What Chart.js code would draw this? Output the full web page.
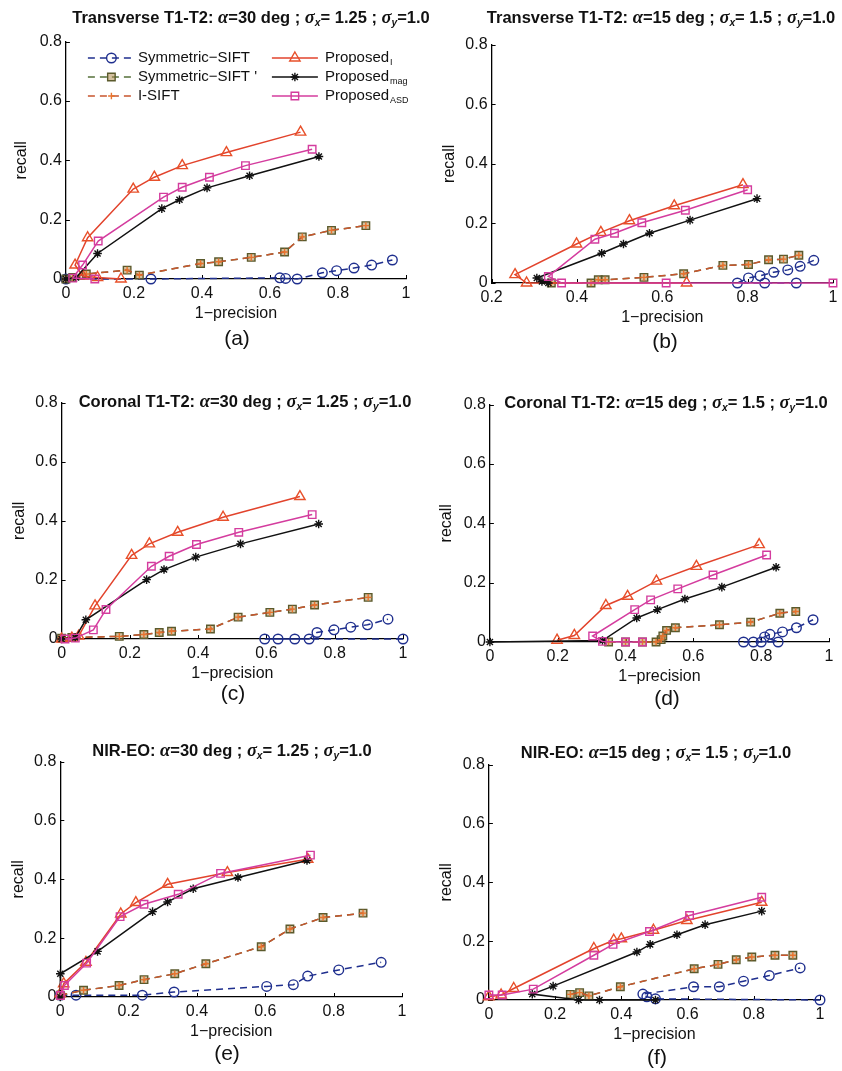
<!DOCTYPE html>
<html>
<head>
<meta charset="utf-8">
<script src="https://cdn.jsdelivr.net/npm/chart.js@4.4.1/dist/chart.umd.min.js"></script>
<style>
  body { margin: 0; background: #fff; }
  #page { position: relative; width: 842px; height: 1071px; overflow: hidden; font-family: "Liberation Sans", Arial, sans-serif; }
  #page canvas { position: absolute; }
  .ttl { position: absolute; transform: translate(-50%, -50%); white-space: nowrap; font-weight: bold; font-size: 16.5px; color: #111; line-height: 20px; }
  .ttl sub { font-size: 0.62em; line-height: 0; vertical-align: -0.3em; font-style: italic; }
  .gk { font-family: "Liberation Serif", serif; font-style: italic; font-size: 1.12em; }
  .tag { position: absolute; transform: translate(-50%, -50%); font-size: 21px; color: #111; }
</style>
</head>
<body>
<div id="page"></div>
<script>
// ---- data: [1-precision, recall] ----
// (a) Transverse T1-T2, alpha=30
const aSym = [[0, 0], [0.25, 0], [0.629, 0.004], [0.646, 0.002], [0.68, 0], [0.754, 0.021], [0.796, 0.028], [0.847, 0.037], [0.899, 0.047], [0.96, 0.064]];
const aSymPrime = [[0, 0], [0.02, 0.005], [0.06, 0.017], [0.18, 0.03], [0.216, 0.013], [0.396, 0.052], [0.449, 0.058], [0.545, 0.073], [0.643, 0.091], [0.695, 0.142], [0.781, 0.164], [0.882, 0.18]];
const aPropI = [[0.162, 0], [0.093, 0.005], [0.05, 0.01], [0.027, 0.047], [0.064, 0.139], [0.198, 0.303], [0.26, 0.343], [0.342, 0.382], [0.472, 0.426], [0.69, 0.495]];
const aPropMag = [[0, 0], [0.03, 0.005], [0.093, 0.086], [0.282, 0.237], [0.334, 0.267], [0.415, 0.307], [0.54, 0.348], [0.744, 0.413]];
const aPropAsd = [[0.085, 0], [0.02, 0.003], [0.049, 0.047], [0.095, 0.128], [0.287, 0.276], [0.342, 0.309], [0.422, 0.343], [0.528, 0.382], [0.724, 0.437]];

// (b) Transverse T1-T2, alpha=15
const bSym = [[0.914, 0], [0.84, 0], [0.776, 0], [0.802, 0.017], [0.829, 0.024], [0.861, 0.036], [0.894, 0.044], [0.923, 0.056], [0.955, 0.076]];
const bSymPrime = [[0.34, 0], [0.433, 0], [0.45, 0.011], [0.466, 0.011], [0.557, 0.019], [0.65, 0.031], [0.742, 0.059], [0.802, 0.062], [0.849, 0.078], [0.884, 0.08], [0.92, 0.093]];
const bPropI = [[0.657, 0], [0.282, 0], [0.255, 0.028], [0.399, 0.131], [0.456, 0.17], [0.523, 0.209], [0.628, 0.259], [0.789, 0.33]];
const bPropMag = [[0.333, 0], [0.318, 0.005], [0.306, 0.017], [0.458, 0.1], [0.509, 0.131], [0.57, 0.167], [0.665, 0.211], [0.822, 0.283]];
const bPropAsd = [[1, 0], [0.609, 0], [0.364, 0], [0.333, 0.022], [0.442, 0.147], [0.488, 0.167], [0.552, 0.202], [0.654, 0.244], [0.8, 0.313]];

// (c) Coronal T1-T2, alpha=30
const cSym = [[1, 0], [0.595, 0], [0.634, 0], [0.683, 0], [0.725, 0], [0.748, 0.022], [0.798, 0.031], [0.847, 0.04], [0.896, 0.048], [0.956, 0.067]];
const cSymPrime = [[0, 0.003], [0.03, 0.005], [0.169, 0.009], [0.241, 0.015], [0.286, 0.022], [0.322, 0.026], [0.436, 0.034], [0.517, 0.074], [0.61, 0.09], [0.676, 0.101], [0.741, 0.115], [0.898, 0.141]];
const cPropI = [[0, 0], [0.03, 0.003], [0.05, 0.01], [0.098, 0.112], [0.205, 0.283], [0.257, 0.322], [0.34, 0.361], [0.473, 0.412], [0.698, 0.482]];
const cPropMag = [[0, 0], [0.04, 0.005], [0.071, 0.065], [0.249, 0.201], [0.3, 0.235], [0.393, 0.277], [0.524, 0.322], [0.753, 0.389]];
const cPropAsd = [[0.01, 0], [0.04, 0.003], [0.093, 0.031], [0.13, 0.1], [0.263, 0.246], [0.315, 0.28], [0.395, 0.32], [0.519, 0.361], [0.734, 0.421]];

// (d) Coronal T1-T2, alpha=15
const dSym = [[0.748, 0], [0.777, 0], [0.8, 0], [0.85, 0], [0.81, 0.017], [0.826, 0.026], [0.863, 0.034], [0.904, 0.048], [0.953, 0.075]];
const dSymPrime = [[0.35, 0], [0.4, 0], [0.45, 0], [0.49, 0], [0.505, 0.008], [0.51, 0.02], [0.521, 0.039], [0.547, 0.048], [0.677, 0.058], [0.769, 0.067], [0.855, 0.097], [0.902, 0.103]];
const dPropI = [[0.198, 0.006], [0.249, 0.022], [0.342, 0.123], [0.406, 0.154], [0.491, 0.205], [0.609, 0.255], [0.794, 0.328]];
const dPropMag = [[0, 0], [0.332, 0.005], [0.433, 0.081], [0.494, 0.109], [0.575, 0.145], [0.684, 0.185], [0.844, 0.252]];
const dPropAsd = [[0.45, 0], [0.4, 0], [0.332, 0.002], [0.303, 0.02], [0.427, 0.109], [0.474, 0.142], [0.554, 0.179], [0.658, 0.226], [0.816, 0.293]];

// (e) NIR-EO, alpha=30
const eSym = [[0, 0.006], [0.046, 0.006], [0.24, 0.006], [0.333, 0.017], [0.604, 0.036], [0.682, 0.042], [0.724, 0.071], [0.815, 0.092], [0.939, 0.118]];
const eSymPrime = [[0, 0.006], [0.068, 0.023], [0.172, 0.039], [0.245, 0.059], [0.335, 0.079], [0.426, 0.113], [0.588, 0.171], [0.672, 0.231], [0.769, 0.27], [0.886, 0.285]];
const ePropI = [[0, 0.011], [0.01, 0.045], [0.075, 0.118], [0.177, 0.282], [0.221, 0.321], [0.314, 0.383], [0.489, 0.423], [0.724, 0.468]];
const ePropMag = [[0, 0], [0, 0.079], [0.109, 0.155], [0.27, 0.29], [0.314, 0.323], [0.389, 0.368], [0.52, 0.406], [0.722, 0.464]];
const ePropAsd = [[0, 0.005], [0.012, 0.039], [0.077, 0.115], [0.175, 0.273], [0.245, 0.315], [0.345, 0.349], [0.469, 0.42], [0.732, 0.482]];

// (f) NIR-EO, alpha=15
const fSym = [[1, 0], [0.503, 0.004], [0.477, 0.011], [0.465, 0.02], [0.618, 0.045], [0.696, 0.045], [0.769, 0.064], [0.847, 0.083], [0.94, 0.109]];
const fSymPrime = [[0.246, 0.019], [0.274, 0.025], [0.302, 0.014], [0.397, 0.045], [0.62, 0.106], [0.692, 0.121], [0.747, 0.137], [0.794, 0.146], [0.864, 0.152], [0.918, 0.152]];
const fPropI = [[0, 0.011], [0.037, 0.017], [0.075, 0.039], [0.317, 0.175], [0.377, 0.203], [0.4, 0.208], [0.497, 0.237], [0.598, 0.27], [0.824, 0.332]];
const fPropMag = [[0.503, 0], [0.334, 0], [0.271, 0], [0.131, 0.02], [0.194, 0.047], [0.447, 0.163], [0.487, 0.189], [0.568, 0.222], [0.653, 0.256], [0.824, 0.302]];
const fPropAsd = [[0, 0.017], [0.04, 0.017], [0.134, 0.037], [0.317, 0.152], [0.375, 0.189], [0.485, 0.233], [0.606, 0.287], [0.824, 0.349]];

const seriesNames = ["Symmetric\u2212SIFT", "Symmetric\u2212SIFT '", "I-SIFT", "Proposed", "Proposed", "Proposed"];
const seriesSubs = ["", "", "", "I", "mag", "ASD"];
const yTicks = [0, 0.2, 0.4, 0.6, 0.8];

const FONT = '"Liberation Sans", Arial, sans-serif';
const BLUE = "#1f2f8e";
const OLIVE = "#55703a";
const ORANGE = "#c8552e";
const RED = "#e2432c";
const BLACK = "#111111";
const MAGENTA = "#d43c9e";

// I-SIFT lies right on top of Symmetric-SIFT ' in every panel
const panels = [
  { tag: "(a)", name: "Transverse T1-T2:", alpha: 30, sx: "1.25", L: 66, R: 406, T: 40, B: 279, recallX: 21.7, xMin: 0, titleX: 251, titleY: 17, tagX: 237, tagY: 338, series: [aSym, aSymPrime, aSymPrime, aPropI, aPropMag, aPropAsd], legend: true },
  { tag: "(b)", name: "Transverse T1-T2:", alpha: 15, sx: "1.5", L: 492, R: 833, T: 43, B: 283, recallX: 450, xMin: 0.2, titleX: 661, titleY: 17, tagX: 665, tagY: 341, series: [bSym, bSymPrime, bSymPrime, bPropI, bPropMag, bPropAsd] },
  { tag: "(c)", name: "Coronal T1-T2:", alpha: 30, sx: "1.25", L: 62, R: 403, T: 401, B: 639, recallX: 20, xMin: 0, titleX: 245, titleY: 401, tagX: 233, tagY: 693, series: [cSym, cSymPrime, cSymPrime, cPropI, cPropMag, cPropAsd] },
  { tag: "(d)", name: "Coronal T1-T2:", alpha: 15, sx: "1.5", L: 490, R: 829, T: 403, B: 642, recallX: 446.7, xMin: 0, titleX: 666, titleY: 402, tagX: 667, tagY: 698, series: [dSym, dSymPrime, dSymPrime, dPropI, dPropMag, dPropAsd] },
  { tag: "(e)", name: "NIR-EO:", alpha: 30, sx: "1.25", L: 60, R: 402, T: 760, B: 997, recallX: 18.3, xMin: 0, titleX: 232, titleY: 750, tagX: 227, tagY: 1053, series: [eSym, eSymPrime, eSymPrime, ePropI, ePropMag, ePropAsd] },
  { tag: "(f)", name: "NIR-EO:", alpha: 15, sx: "1.5", L: 489, R: 820, T: 763, B: 1000, recallX: 446.7, xMin: 0, titleX: 656, titleY: 752, tagX: 657, tagY: 1057, series: [fSym, fSymPrime, fSymPrime, fPropI, fPropMag, fPropAsd] },
];

const styles = [
  { borderColor: BLUE, borderDash: [7, 5], pointStyle: "circle", pointRadius: 4.8, pointBorderColor: BLUE, pointBackgroundColor: "rgba(0,0,0,0)" },
  { borderColor: OLIVE, borderDash: [7, 5], pointStyle: "rect", pointRadius: 5.3, pointBorderColor: "#5b5a2c", pointBackgroundColor: "rgba(176,140,80,0.55)" },
  { borderColor: ORANGE, borderDash: [7, 5], pointStyle: "cross", pointRadius: 3.3, pointBorderColor: "#e8742e", pointBackgroundColor: "rgba(0,0,0,0)" },
  { borderColor: RED, borderDash: [], pointStyle: "triangle", pointRadius: 6, pointBorderColor: "#e8502a", pointBackgroundColor: "rgba(0,0,0,0)" },
  { borderColor: BLACK, borderDash: [], pointStyle: "star", pointRadius: 4.3, pointBorderColor: BLACK, pointBackgroundColor: "rgba(0,0,0,0)" },
  { borderColor: MAGENTA, borderDash: [], pointStyle: "rect", pointRadius: 5.3, pointBorderColor: MAGENTA, pointBackgroundColor: "rgba(0,0,0,0)" },
];

const PAD_TOP = 12, PAD_RIGHT = 14, X_AXIS_H = 48;

// MATLAB style tick marks pointing into the plot
const innerTicks = {
  id: "innerTicks",
  beforeDatasetsDraw(chart) {
    const { ctx, chartArea: a, scales: { x, y } } = chart;
    ctx.save();
    ctx.strokeStyle = "#000";
    ctx.lineWidth = 1;
    ctx.beginPath();
    x.ticks.forEach((t) => {
      const px = Math.round(x.getPixelForValue(t.value)) + 0.5;
      ctx.moveTo(px, a.bottom);
      ctx.lineTo(px, a.bottom - 4);
    });
    y.ticks.forEach((t) => {
      const py = Math.round(y.getPixelForValue(t.value)) + 0.5;
      ctx.moveTo(a.left, py);
      ctx.lineTo(a.left + 4, py);
    });
    ctx.stroke();
    ctx.restore();
  },
};

// two-column legend inside panel (a)
const legendRows = [58, 77, 96];
const legendCols = [{ line: [88, 135], text: 138 }, { line: [272, 318], text: 325 }];
const figLegend = {
  id: "figLegend",
  afterDraw(chart, args, opts) {
    if (!opts.show) return;
    const ctx = chart.ctx;
    const sets = chart.data.datasets;
    ctx.save();
    seriesNames.forEach((name, i) => {
      const d = sets[i];
      const col = legendCols[i < 3 ? 0 : 1];
      const y = legendRows[i % 3] - opts.oy;
      const x0 = col.line[0] - opts.ox;
      const x1 = col.line[1] - opts.ox;
      const mx = (x0 + x1) / 2;
      ctx.setLineDash(d.borderDash);
      ctx.strokeStyle = d.borderColor;
      ctx.lineWidth = d.borderWidth;
      ctx.beginPath();
      ctx.moveTo(x0, y);
      ctx.lineTo(x1, y);
      ctx.stroke();
      ctx.setLineDash([]);
      ctx.strokeStyle = d.pointBorderColor;
      ctx.fillStyle = d.pointBackgroundColor;
      ctx.lineWidth = d.pointBorderWidth;
      Chart.helpers.drawPoint(ctx, { pointStyle: d.pointStyle, radius: d.pointRadius, rotation: 0, borderWidth: d.pointBorderWidth }, mx, y);
      const tx = col.text - opts.ox;
      ctx.fillStyle = "#111";
      ctx.textBaseline = "middle";
      ctx.textAlign = "left";
      ctx.font = "15px " + FONT;
      ctx.fillText(name, tx, y);
      if (seriesSubs[i]) {
        const w = ctx.measureText(name).width;
        ctx.font = "9px " + FONT;
        ctx.fillText(seriesSubs[i], tx + w + 1, y + 5);
      }
    });
    ctx.restore();
  },
};

const fmt = (v) => (Math.abs(v) < 1e-9 ? "0" : String(+v.toFixed(1)));

const page = document.getElementById("page");

panels.forEach((p) => {
  const yAxisW = p.L - p.recallX + 13.6;
  const left = p.recallX - 13.6;
  const top = p.T - PAD_TOP;
  const width = Math.round(yAxisW + (p.R - p.L) + PAD_RIGHT);
  const height = Math.round(PAD_TOP + (p.B - p.T) + X_AXIS_H);

  const canvas = document.createElement("canvas");
  canvas.width = width;
  canvas.height = height;
  canvas.style.left = left + "px";
  canvas.style.top = top + "px";
  canvas.style.width = width + "px";
  canvas.style.height = height + "px";
  page.appendChild(canvas);

  const datasets = p.series.map((pts, i) => ({
    label: seriesNames[i] + seriesSubs[i],
    data: pts.map(([x, y]) => ({ x, y })),
    showLine: true,
    tension: 0,
    borderWidth: 1.5,
    pointBorderWidth: 1.4,
    pointHoverRadius: styles[i].pointRadius,
    clip: false,
    order: 10 - i,
    ...styles[i],
  }));

  new Chart(canvas.getContext("2d"), {
    type: "scatter",
    data: { datasets },
    options: {
      responsive: false,
      animation: false,
      devicePixelRatio: 1,
      events: [],
      layout: { padding: { top: PAD_TOP, right: PAD_RIGHT, left: 0, bottom: 0 } },
      plugins: {
        legend: { display: false },
        tooltip: { enabled: false },
        figLegend: { show: !!p.legend, ox: left, oy: top },
      },
      scales: {
        x: {
          type: "linear",
          min: p.xMin,
          max: 1,
          afterFit: (s) => { s.height = X_AXIS_H; },
          grid: { display: false, drawTicks: false },
          border: { display: true, color: "#000", width: 1.3 },
          ticks: { stepSize: 0.2, autoSkip: false, maxRotation: 0, padding: 5, color: "#111", font: { size: 16, family: FONT }, callback: fmt },
          title: { display: true, text: "1\u2212precision", color: "#111", font: { size: 16, family: FONT }, padding: { top: 4, bottom: 4 } },
        },
        y: {
          type: "linear",
          min: yTicks[0],
          max: yTicks[yTicks.length - 1],
          afterFit: (s) => { s.width = yAxisW; },
          afterBuildTicks: (s) => { s.ticks = yTicks.map((v) => ({ value: v })); },
          grid: { display: false, drawTicks: false },
          border: { display: true, color: "#000", width: 1.3 },
          ticks: { padding: 4, color: "#111", font: { size: 16, family: FONT }, callback: fmt },
          title: { display: true, text: "recall", color: "#111", font: { size: 16, family: FONT }, padding: { top: 4, bottom: 4 } },
        },
      },
    },
    plugins: [innerTicks, figLegend],
  });

  const ttl = document.createElement("div");
  ttl.className = "ttl";
  ttl.style.left = p.titleX + "px";
  ttl.style.top = p.titleY + "px";
  ttl.innerHTML = p.name + ' <span class="gk">\u03b1</span>=' + p.alpha +
    ' deg ; <span class="gk">\u03c3</span><sub>x</sub>= ' + p.sx +
    ' ; <span class="gk">\u03c3</span><sub>y</sub>=1.0';
  page.appendChild(ttl);

  const tag = document.createElement("div");
  tag.className = "tag";
  tag.style.left = p.tagX + "px";
  tag.style.top = p.tagY + "px";
  tag.textContent = p.tag;
  page.appendChild(tag);
});
</script>
</body>
</html>
